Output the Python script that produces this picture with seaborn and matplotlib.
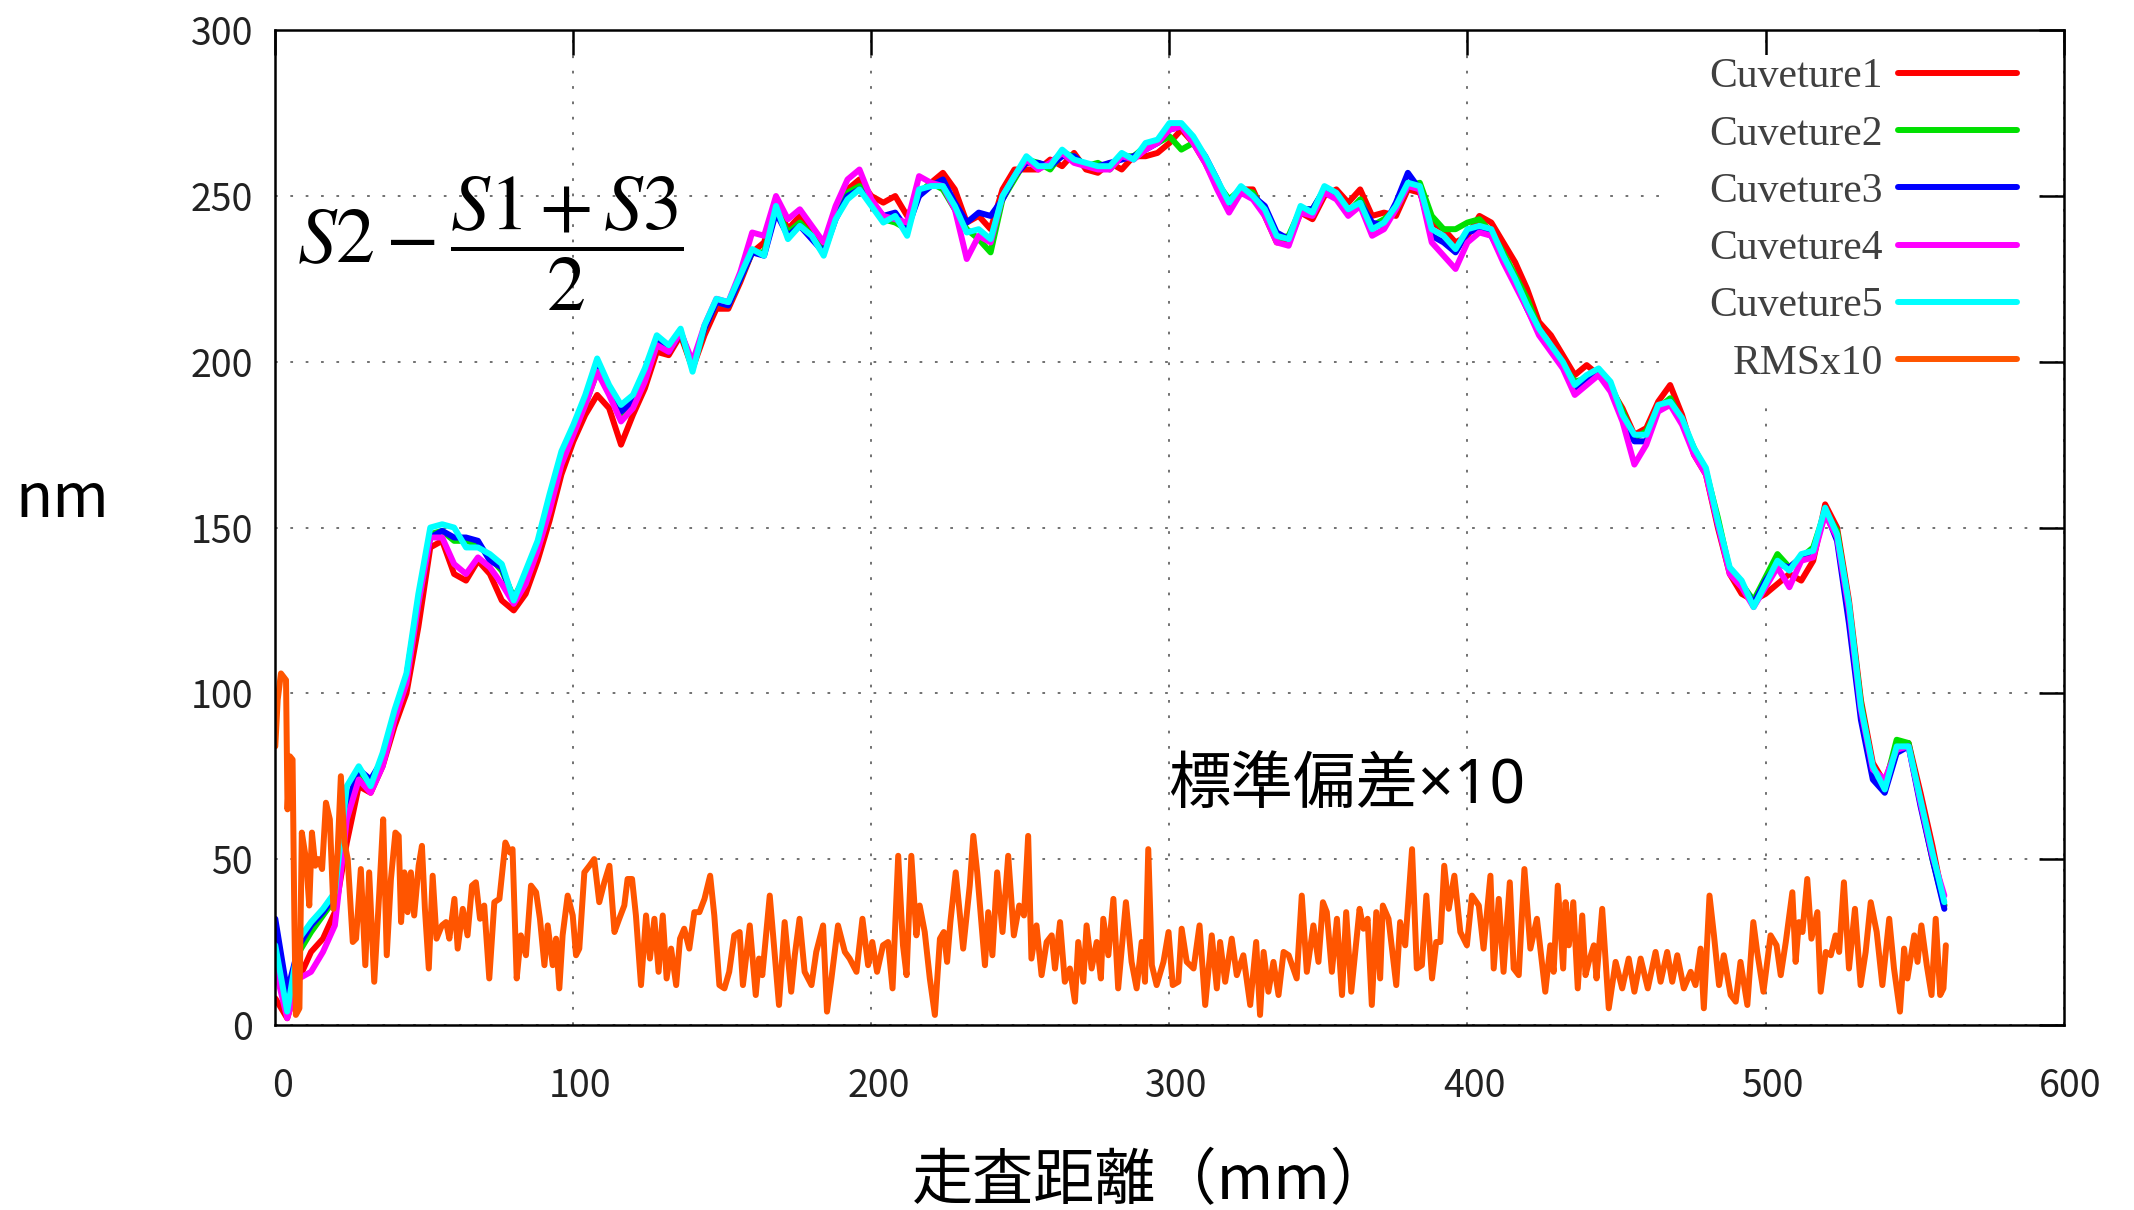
import matplotlib
matplotlib.use("Agg")
from matplotlib import pyplot as plt
from matplotlib.lines import Line2D
from matplotlib.patches import Rectangle
from matplotlib.transforms import ScaledTranslation
import seaborn as sns
import pandas as pd

# scan position (mm) for the five curvature traces
dist = list(range(0, 561, 4))

cuveture1 = [8, 2, 14, 22, 26, 34, 55, 72, 70, 78,
             90, 100, 120, 144, 146, 136, 134, 140, 136, 128,
             125, 130, 140, 152, 166, 176, 184, 190, 186, 175,
             184, 192, 203, 202, 208, 198, 208, 216, 216, 224,
             233, 236, 248, 240, 244, 238, 234, 245, 252, 255,
             250, 248, 250, 244, 250, 254, 257, 252, 242, 244,
             240, 252, 258, 258, 258, 261, 259, 263, 258, 257,
             260, 258, 262, 262, 263, 266, 270, 266, 260, 253,
             248, 252, 252, 244, 236, 236, 245, 243, 250, 252,
             248, 252, 244, 245, 244, 252, 251, 242, 240, 236,
             238, 244, 242, 236, 230, 222, 212, 208, 202, 196,
             199, 196, 192, 186, 178, 180, 188, 193, 184, 172,
             166, 150, 136, 130, 128, 130, 133, 136, 134, 140,
             157, 150, 128, 98, 79, 73, 84, 85, 70, 54,
             36]
cuveture2 = [20, 3, 22, 28, 33, 38, 62, 76, 72, 80,
             93, 104, 127, 148, 149, 146, 146, 145, 141, 137,
             129, 135, 144, 156, 170, 179, 187, 197, 191, 183,
             187, 195, 205, 204, 209, 198, 210, 218, 217, 225,
             233, 233, 246, 239, 242, 238, 233, 244, 251, 253,
             248, 243, 242, 240, 251, 254, 252, 246, 240, 237,
             233, 249, 255, 261, 260, 258, 263, 262, 259, 260,
             258, 262, 262, 265, 266, 268, 264, 266, 261, 254,
             249, 252, 251, 245, 237, 238, 246, 246, 252, 250,
             245, 249, 241, 243, 246, 253, 254, 244, 240, 240,
             242, 243, 239, 233, 226, 219, 210, 204, 199, 194,
             195, 197, 193, 185, 177, 179, 186, 189, 182, 174,
             167, 153, 137, 133, 128, 135, 142, 138, 141, 144,
             155, 149, 126, 97, 77, 72, 86, 85, 67, 50,
             36]
cuveture3 = [32, 10, 24, 30, 34, 39, 66, 77, 74, 80,
             94, 105, 128, 147, 149, 147, 147, 146, 140, 138,
             128, 136, 145, 158, 171, 180, 188, 198, 192, 185,
             188, 196, 206, 203, 209, 199, 210, 218, 217, 225,
             233, 232, 245, 238, 241, 237, 233, 243, 250, 252,
             248, 244, 245, 240, 250, 253, 255, 248, 242, 245,
             244, 249, 256, 260, 260, 259, 262, 262, 259, 259,
             260, 261, 262, 264, 266, 270, 271, 267, 262, 255,
             247, 252, 250, 247, 239, 237, 246, 246, 252, 251,
             245, 248, 242, 241, 248, 257, 252, 238, 236, 233,
             239, 240, 238, 231, 224, 216, 209, 204, 199, 192,
             194, 197, 193, 183, 176, 176, 186, 188, 182, 173,
             167, 151, 137, 133, 127, 134, 139, 138, 141, 142,
             155, 146, 121, 92, 74, 70, 82, 84, 66, 50,
             35]
cuveture4 = [17, 2, 14, 16, 22, 30, 62, 74, 70, 78,
             92, 103, 127, 147, 147, 139, 136, 141, 138, 133,
             127, 133, 143, 155, 169, 178, 187, 197, 190, 182,
             186, 194, 205, 203, 209, 200, 211, 219, 218, 227,
             239, 238, 250, 243, 246, 241, 236, 247, 255, 258,
             249, 244, 243, 242, 256, 254, 253, 246, 231, 238,
             236, 250, 256, 261, 258, 260, 263, 260, 259, 258,
             258, 262, 261, 264, 266, 270, 271, 266, 260, 252,
             245, 251, 249, 244, 236, 235, 245, 244, 251, 249,
             244, 247, 238, 240, 246, 253, 252, 236, 232, 228,
             236, 239, 238, 230, 223, 216, 208, 203, 198, 190,
             193, 196, 191, 182, 169, 175, 185, 187, 181, 172,
             166, 151, 136, 132, 126, 132, 138, 132, 140, 141,
             154, 147, 125, 95, 77, 74, 83, 84, 67, 51,
             39]
cuveture5 = [24, 4, 26, 31, 35, 40, 72, 78, 72, 82,
             95, 106, 130, 150, 151, 150, 144, 144, 142, 139,
             128, 137, 146, 160, 173, 181, 190, 201, 193, 187,
             190, 198, 208, 205, 210, 197, 211, 219, 218, 226,
             234, 232, 247, 237, 241, 238, 232, 243, 249, 252,
             247, 242, 244, 238, 252, 253, 253, 247, 239, 240,
             237, 250, 256, 262, 259, 259, 264, 261, 260, 259,
             259, 263, 261, 266, 267, 272, 272, 268, 262, 255,
             248, 253, 250, 246, 238, 237, 247, 245, 253, 251,
             246, 248, 240, 242, 247, 254, 253, 240, 238, 234,
             240, 241, 240, 232, 225, 217, 210, 205, 200, 193,
             196, 198, 194, 184, 178, 178, 187, 188, 183, 174,
             168, 152, 138, 134, 126, 133, 140, 137, 142, 143,
             156, 148, 127, 96, 78, 71, 84, 84, 68, 52,
             37]

rms_dist = [0, 0.8, 1.9, 3.6, 4.1, 4.9, 5.8, 6.4, 6.9, 8.1, 8.9, 10.3, 11.4, 12.3, 13.4,
            14.5, 15.7, 17.0, 18.3, 19.5, 20.9, 22.0, 23.2, 24.3, 26.0, 27.1, 28.7, 30.2,
            31.5, 33.2, 34.9, 36.2, 37.4, 38.8, 40.3, 41.4, 42.2, 43.3, 44.4, 45.5, 46.6,
            48.1, 49.2, 50.2, 51.5, 52.8, 54.1, 55.9, 57.3, 58.4, 60.1, 61.2, 62.9, 64.5,
            66.0, 67.3, 68.7, 70.1, 71.8, 73.5, 75.2, 77.2, 78.7, 79.6, 81.0, 82.4, 84.1,
            85.8, 87.5, 88.8, 90.3, 91.4, 93.1, 94.2, 95.3, 96.4, 98.1, 99.8, 100.9, 102.0,
            103.7, 105.4, 107.0, 108.7, 110.4, 112.1, 113.8, 115.4, 117.1, 118.2, 119.7,
            121.0, 122.7, 124.4, 125.7, 127.2, 128.6, 130.0, 131.3, 132.8, 134.5, 135.8,
            137.2, 138.9, 140.6, 142.3, 144.0, 145.9, 147.3, 149.0, 150.7, 152.3, 154.0,
            155.8, 156.9, 159.2, 161.2, 162.3, 163.4, 165.9, 169.0, 170.9, 173.1, 174.3,
            175.9, 177.6, 179.9, 181.5, 183.8, 185.1, 186.6, 188.8, 191.1, 192.7, 195.0,
            197.0, 198.9, 200.3, 201.9, 203.9, 205.6, 207.1, 209.0, 210.6, 211.8, 213.4,
            215.1, 216.2, 217.9, 219.6, 221.3, 223.0, 224.3, 225.4, 226.5, 228.3, 230.8,
            233.0, 234.2, 235.5, 236.9, 238.1, 239.2, 240.6, 242.2, 244.0, 245.9, 247.8,
            249.6, 251.2, 252.6, 253.7, 255.4, 257.1, 258.8, 260.5, 261.6, 263.3, 264.9,
            266.6, 268.3, 269.4, 271.1, 272.2, 273.9, 275.6, 277.0, 277.8, 279.5, 281.2,
            282.8, 285.4, 287.3, 289.0, 290.7, 291.8, 292.9,
            294.1, 295.7, 298.0, 299.7, 301.1, 303.0, 304.1, 305.8, 308.1, 310.1, 312.0,
            314.2, 315.9, 317.0, 318.7, 320.9, 322.6, 324.8, 327.1, 329.1, 330.4, 331.6,
            333.2, 334.9, 336.6, 338.3, 340.0, 342.7, 344.4, 346.1, 348.3, 350.0, 351.5,
            352.8, 354.5, 356.2, 357.9, 359.3, 361.0, 363.8, 365.1, 366.5, 367.9, 369.4,
            370.7, 371.6, 373.5, 376.1, 377.4, 379.1, 381.4, 383.0, 384.7, 386.2, 388.1,
            389.5, 390.9, 392.2, 393.7, 395.6, 397.6, 399.8, 401.5, 403.8, 405.4, 407.7,
            408.8, 410.5, 412.1, 414.2, 415.5, 417.2, 419.1, 421.1, 423.3, 426.1, 427.8,
            428.9, 430.3,
            432.1, 432.9, 434.0, 435.5, 437.0, 438.5, 439.6, 440.7, 442.4, 443.3, 445.2,
            447.4, 449.7, 451.9, 454.1, 456.0, 458.1, 460.5, 463.1, 464.8, 467.0, 468.7,
            470.4, 472.6, 474.9, 476.5, 478.2, 479.3, 481.2, 482.7, 484.4, 486.0, 488.3,
            490.0, 491.6, 493.9, 495.9, 497.2, 499.3, 501.7, 503.7, 505.1, 506.8, 509.0,
            510.1, 511.2, 512.4, 514.0, 515.4, 517.4, 518.5, 520.2, 521.9, 523.5, 524.7,
            526.3, 528.0, 530.0, 531.9, 533.6, 535.3, 537.3, 539.2, 541.5, 543.1, 545.1,
            546.5, 547.6, 549.9, 551.0, 552.3, 554.1, 555.7, 557.1, 558.6, 559.7, 560.5]
rms_x10 = [84, 98, 106, 104, 65, 81, 80, 32, 3, 5, 58, 50, 36, 58, 48,
           50, 47, 67, 62, 35, 52, 75, 55, 50, 25, 26, 47, 18,
           46, 13, 40, 62, 21, 44, 58, 57, 31, 46, 34, 46, 33,
           48, 54, 35, 17, 45, 26, 30, 31, 26, 38, 23, 35, 27,
           42, 43, 32, 36, 14, 37, 38, 55, 52, 53, 14, 27, 21,
           42, 40, 32, 18, 30, 18, 26, 11, 27, 39, 33, 21, 23,
           46, 48, 50, 37, 43, 48, 28, 32, 36, 44, 44,
           33, 12, 33, 20, 32, 16, 33, 14, 23, 12, 26,
           29, 23, 34, 34, 38, 45, 33, 12, 11, 16, 27,
           28, 12, 30, 9, 20, 15, 39, 6, 31, 10, 21,
           32, 16, 12, 22, 30, 4, 14, 30, 22, 20, 16,
           32, 18, 25, 16, 24, 25, 11, 51, 24, 15, 51,
           27, 36, 28, 14, 3, 26, 28, 19, 31, 46, 23,
           42, 57, 46, 31, 18, 34, 21, 46, 28, 51, 27,
           36, 33, 57, 20, 30, 15, 25, 27, 17, 31, 13,
           17, 7, 25, 13, 30, 17, 25, 14, 32, 21, 38,
           11, 37, 19, 11, 25, 13, 53,
           18, 12, 19, 28, 12, 13, 29, 19, 17, 30, 6,
           27, 11, 25, 13, 26, 15, 21, 6, 25, 3, 22,
           10, 19, 9, 22, 21, 14, 39, 16, 30, 19, 37,
           34, 16, 32, 9, 34, 10, 35, 29, 32, 6, 34,
           14, 36, 32, 12, 31, 24, 53, 17, 18, 39, 14,
           25, 25, 48, 35, 45, 28, 24, 39, 36, 23, 45,
           17, 38, 16, 43, 17, 15, 47, 23, 32, 10, 24,
           16, 42,
           17, 37, 24, 37, 11, 33, 15, 19, 24, 14, 35,
           5, 19, 11, 20, 10, 20, 11, 22, 13, 22, 13,
           21, 11, 16, 12, 23, 5, 39, 27, 12, 21, 9,
           7, 19, 6, 31, 22, 10, 27, 24, 15, 25, 40,
           19, 31, 28, 44, 26, 34, 10, 22, 21, 27, 22,
           43, 17, 35, 12, 22, 37, 28, 12, 32, 17, 4,
           23, 14, 27, 19, 30, 18, 9, 32, 9, 11, 24]

series = ["Cuveture1", "Cuveture2", "Cuveture3", "Cuveture4", "Cuveture5", "RMSx10"]
colors = ["#ff0000", "#00e000", "#0000ff", "#ff00ff", "#00ffff", "#ff5500"]

frames = []
for name, vals in zip(series[:5], [cuveture1, cuveture2, cuveture3, cuveture4, cuveture5]):
    frames.append(pd.DataFrame({"dist": dist, "nm": vals, "series": name}))
frames.append(pd.DataFrame({"dist": rms_dist, "nm": rms_x10, "series": "RMSx10"}))
data = pd.concat(frames, ignore_index=True)

sns.set_theme(style="white")
plt.rcParams["font.family"] = ["Noto Sans CJK JP", "DejaVu Sans"]
plt.rcParams["mathtext.fontset"] = "stix"

fig = plt.figure(figsize=(21.34, 12.10), dpi=100)
ax = fig.add_axes([0.129, 0.153, 0.838, 0.822])

sns.lineplot(data=data, x="dist", y="nm", hue="series", hue_order=series,
             palette=dict(zip(series, colors)), estimator=None, sort=False,
             linewidth=4.3, legend=False, ax=ax)

ax.set_xlim(0, 600)
ax.set_ylim(0, 300)
ax.set_xticks(range(0, 601, 100))
ax.set_yticks(range(0, 301, 50))
ax.grid(True, linestyle=(0, (1.5, 7)), color="#666666", lw=1.3)
ax.set_axisbelow(True)
for s in ax.spines.values():
    s.set_color("black")
    s.set_linewidth(1.8)
ax.tick_params(direction="in", length=18, width=1.8, top=True, right=True,
               labelsize=27, colors="black", labelcolor="#222222")
ax.tick_params(axis="x", pad=30)
ax.tick_params(axis="y", pad=16)
for lab in ax.get_xticklabels():
    lab.set_transform(lab.get_transform() + ScaledTranslation(0.07, 0, fig.dpi_scale_trans))

ax.set_xlabel("走査距離（mm）", fontsize=44, color="black", va="center")
ax.xaxis.set_label_coords(0.49, -0.158)
ax.set_ylabel("nm", fontsize=44, rotation=0, color="black", ha="center", va="center")
ax.yaxis.set_label_coords(-0.119, 0.528)

ax.text(0.012, 0.785, r"$S2-\dfrac{S1+S3}{2}$", transform=ax.transAxes,
        fontsize=56, ha="left", va="center", color="black")
ax.text(0.499, 0.239, "標準偏差×10", transform=ax.transAxes,
        fontsize=45, ha="left", va="center", color="black",
        family=["Noto Sans", "Noto Sans CJK JP"])

# opaque key area hides the grid behind the legend, ticks stay visible
ax.add_patch(Rectangle((0.778, 0.631), 0.208, 0.344, transform=ax.transAxes,
                       facecolor="white", edgecolor="none", zorder=0.8))

handles = [Line2D([], [], color=c, lw=4.3) for c in colors]
leg = ax.legend(handles, series, loc="upper right", bbox_to_anchor=(0.983, 0.989),
                frameon=False, markerfirst=False, handlelength=2.85,
                handletextpad=0.35, labelspacing=0.45, borderaxespad=0,
                prop={"family": "Liberation Serif", "size": 30})
for t in leg.get_texts():
    t.set_color("#404040")

plt.savefig("out.png", dpi=100)
